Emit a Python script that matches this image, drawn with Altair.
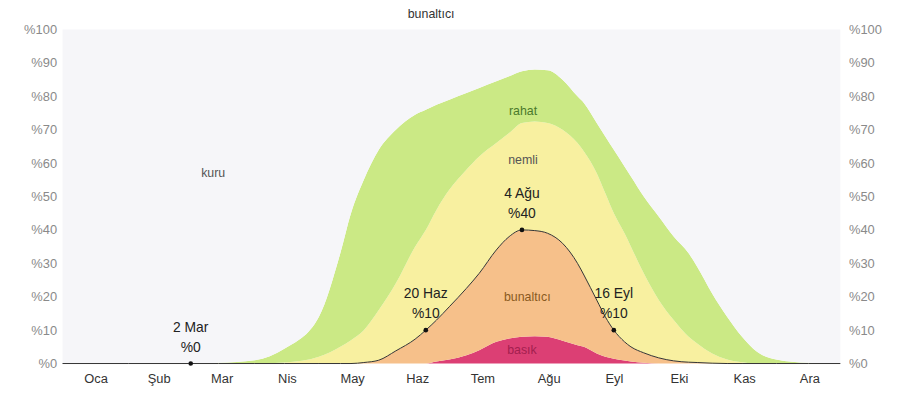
import altair as alt
import pandas as pd

# ---- data (day of year, cumulative % of time) ----
days = [1, 32, 60, 74, 91, 105, 121, 131, 136, 142, 149, 157, 166, 171, 176,
        182, 190, 196, 204, 210, 216, 222, 228, 235, 242, 245, 251, 255, 259, 264,
        267, 273, 280, 287, 294, 298, 305, 312, 319, 326, 335, 350, 365]
basik_top = [0, 0, 0, 0, 0, 0, 0, 0, 0, 0, 0, 0, 0, 0, 0.6,
             1.2, 2.5, 4, 6.5, 7.5, 8, 8.2, 8, 6.8, 5.5, 5, 3, 2, 1.4, 0.9,
             0.6, 0.25, 0, 0, 0, 0, 0, 0, 0, 0, 0, 0, 0]
muggy_top = [0, 0, 0, 0, 0, 0, 0, 0, 0, 0.3, 1, 3.8, 7.3, 10, 13,
             17, 22.5, 27, 34, 38, 40, 39.8, 39, 36, 30, 26.5, 19, 14, 10, 6.5,
             5, 3.2, 1.7, 0.8, 0.4, 0.3, 0.1, 0, 0, 0, 0, 0, 0]
nemli_top = [0, 0, 0, 0, 0, 0.3, 2, 5, 7, 10, 16, 24, 35, 40, 46,
             52, 58, 62, 66, 69, 72, 72.5, 72, 70, 66, 63.5, 57, 51, 45, 39,
             35, 27, 19, 13, 8, 6, 3, 1.2, 0.4, 0, 0, 0, 0]
rahat_top = [0, 0, 0, 0.2, 1, 4.5, 14, 33, 45, 55, 64, 70, 74.5, 76, 77.5,
             79, 81, 82.5, 84.5, 86, 87.5, 88, 87.8, 85, 80, 78, 72, 68, 64, 59,
             56, 50, 44, 38, 33, 29, 21, 14, 8, 3.5, 1.2, 0.2, 0]

band_ids = ["basik", "bunaltici", "nemli", "rahat", "kuru"]
band_colors = ["#dc3f74", "#f6c08a", "#f8f0a0", "#cbe985", "#f6f6f9"]

months = ["Oca", "Şub", "Mar", "Nis", "May", "Haz", "Tem", "Ağu", "Eyl", "Eki", "Kas", "Ara"]
month_len = [31, 28, 31, 30, 31, 30, 31, 31, 30, 31, 30, 31]

ann_day = [61, 171, 216, 259]
ann_date = ["2 Mar", "20 Haz", "4 Ağu", "16 Eyl"]
ann_val = [0, 10, 40, 10]

lab_text = ["kuru", "rahat", "nemli", "bunaltıcı", "basık", "bunaltıcı"]
lab_day = [71.5, 216.5, 216.5, 218.5, 216, 173.5]
lab_val = [57, 75.7, 60.8, 19.9, 3.9, 104.7]
lab_color = ["#555555", "#4a7a2c", "#555555", "#8a5a1e", "#a3204f", "#333333"]

# ---- tables ----
lows = [[0] * len(days), basik_top, muggy_top, nemli_top, rahat_top]
highs = [basik_top, muggy_top, nemli_top, rahat_top, [100] * len(days)]
rows = []
for b, lo, hi in zip(band_ids, lows, highs):
    for d, l, h in zip(days, lo, hi):
        rows.append({"band": b, "day": d, "lo": l, "hi": h})
bands_df = pd.DataFrame(rows)
line_df = pd.DataFrame({"day": days, "v": muggy_top})
ann_df = pd.DataFrame({"day": ann_day, "v": ann_val, "d": ann_date,
                       "p": [f"%{v}" for v in ann_val]})
lab_df = pd.DataFrame({"t": lab_text, "day": lab_day, "v": lab_val, "c": lab_color})

mids = []
start = 1
for L in month_len:
    mids.append(start + L / 2)
    start += L
month_arr = "[" + ",".join("'" + m + "'" for m in months) + "]"

FONT = "Liberation Sans"
xscale = alt.Scale(domain=[1, 366], nice=False, zero=False)
yscale = alt.Scale(domain=[0, 100], nice=False)
xaxis = alt.Axis(values=mids, labelExpr=month_arr + "[floor((datum.value-1)/30.5)]",
                 grid=False, domain=False, ticks=False, labelColor="#333333",
                 labelFontSize=13, labelFont=FONT, labelPadding=9, title=None)


def xenc():
    return alt.X("day:Q", scale=xscale, axis=xaxis)


def yaxis(orient):
    return alt.Axis(orient=orient, values=list(range(0, 101, 10)), labelExpr="'%' + datum.value",
                    grid=False, domain=False, ticks=False, labelColor="#8a8a8a",
                    labelFontSize=13, labelFont=FONT, labelPadding=6, title=None)


areas = alt.Chart(bands_df).mark_area(interpolate="monotone").encode(
    x=xenc(),
    y=alt.Y("lo:Q", scale=yscale, stack=None, axis=yaxis("left")),
    y2="hi:Q",
    color=alt.Color("band:N", scale=alt.Scale(domain=band_ids, range=band_colors), legend=None),
)

line = alt.Chart(line_df).mark_line(interpolate="monotone", color="#333333", strokeWidth=1).encode(
    x=xenc(),
    y=alt.Y("v:Q", scale=yscale, axis=yaxis("right")),
)

pts = alt.Chart(ann_df).mark_circle(color="#111111", size=22, opacity=1).encode(
    x=xenc(),
    y=alt.Y("v:Q", scale=yscale, axis=None),
)

ann_date_txt = alt.Chart(ann_df).mark_text(baseline="bottom", dy=-29, fontSize=14, font=FONT,
                                           color="#222222").encode(
    x=xenc(),
    y=alt.Y("v:Q", scale=yscale, axis=None),
    text="d:N",
)
ann_pct_txt = alt.Chart(ann_df).mark_text(baseline="bottom", dy=-9, fontSize=14, font=FONT,
                                          color="#222222").encode(
    x=xenc(),
    y=alt.Y("v:Q", scale=yscale, axis=None),
    text="p:N",
)

labels = alt.Chart(lab_df).mark_text(fontSize=12.5, font=FONT, baseline="middle").encode(
    x=xenc(),
    y=alt.Y("v:Q", scale=yscale, axis=None),
    text="t:N",
    color=alt.Color("c:N", scale=None, legend=None),
)

chart = alt.layer(areas, line, pts, ann_date_txt, ann_pct_txt, labels).resolve_axis(
    y="independent").properties(
    width=787, height=337,
    autosize=alt.AutoSizeParams(type="none"),
    padding={"left": 55, "top": 20, "right": 55, "bottom": 27},
).configure_view(stroke=None)

chart.save("out.html", embed_options={"renderer": "svg", "actions": False})
